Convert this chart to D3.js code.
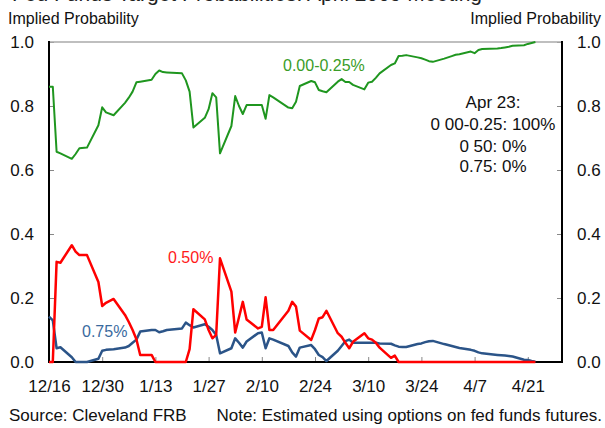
<!DOCTYPE html>
<html>
<head>
<meta charset="utf-8">
<script src="https://cdn.jsdelivr.net/npm/d3@7"></script>
<style>
  body { margin: 0; background: #fff; }
  svg { display: block; font-family: "Liberation Sans", Arial, sans-serif; }
</style>
</head>
<body>
<div id="chart"></div>
<script>
// trading days, 12/16/08 - 4/23/09
const dates = [
  "2008-12-16","2008-12-17","2008-12-18","2008-12-19","2008-12-22","2008-12-23","2008-12-24","2008-12-26","2008-12-29","2008-12-30","2008-12-31",
  "2009-01-02","2009-01-05","2009-01-06","2009-01-07","2009-01-08","2009-01-09","2009-01-12","2009-01-13","2009-01-14","2009-01-15","2009-01-16","2009-01-20","2009-01-21","2009-01-22","2009-01-23","2009-01-26","2009-01-27","2009-01-28","2009-01-29","2009-01-30",
  "2009-02-02","2009-02-03","2009-02-04","2009-02-05","2009-02-06","2009-02-09","2009-02-10","2009-02-11","2009-02-12","2009-02-13","2009-02-17","2009-02-18","2009-02-19","2009-02-20","2009-02-23","2009-02-24","2009-02-25","2009-02-26","2009-02-27",
  "2009-03-02","2009-03-03","2009-03-04","2009-03-05","2009-03-06","2009-03-09","2009-03-10","2009-03-11","2009-03-12","2009-03-13","2009-03-16","2009-03-17","2009-03-18","2009-03-19","2009-03-20","2009-03-23","2009-03-24","2009-03-25","2009-03-26","2009-03-27","2009-03-30","2009-03-31",
  "2009-04-01","2009-04-02","2009-04-03","2009-04-06","2009-04-07","2009-04-08","2009-04-09","2009-04-13","2009-04-14","2009-04-15","2009-04-16","2009-04-17","2009-04-20","2009-04-21","2009-04-22","2009-04-23"
];

// 0.00-0.25%
const probLow = [
  .86,.86,.657,.652,.635,.65,.668,.67,.74,.796,.78,
  .771,.81,.826,.845,.874,.876,.882,.9,.911,.906,.905,.902,.88,.845,.733,.763,.79,.84,.827,.652,
  .7375,.831,.8,.775,.803,.803,.803,.76,.834,.827,.795,.793,.813,.8625,.878,.874,.85,.846,.843,
  .876,.884,.875,.875,.866,.852,.873,.876,.888,.902,.928,.933,.956,.957,.959,.952,.949,.945,.94,.938,.948,.952,
  .956,.96,.962,.97,.965,.975,.978,.98,.981,.983,.985,.988,.99,.994,.997,1.0
];

// 0.50%
const prob050 = [
  0,0,.313,.31,.365,.345,.334,.334,.25,.175,.185,
  .197,.147,.125,.1,.071,.022,.022,0,0,0,0,0,0,.04,.165,.133,.1,.074,.085,.324,
  .22,.092,.14,.188,.133,.105,.11,.202,.1,.1,.16,.188,.173,.098,.069,.1,.136,.14,.16,
  .09,.079,.06,.043,.063,.09,.074,.07,.06,.045,.013,.02,0,0,0,0,0,0,0,0,0,0,
  0,0,0,0,0,0,0,0,0,0,0,0,0,0,0,0
];

// 0.75%
const prob075 = [
  .142,.13,.043,.046,.015,0,0,0,.01,.035,.038,
  .04,.045,.05,.06,.07,.095,.1,.1,.093,.096,.1,.105,.123,.115,.108,.118,.11,.1,.084,.027,
  .043,.074,.06,.045,.064,.09,.092,.043,.074,.07,.05,.03,.017,.045,.053,.04,.022,.015,.003,
  .035,.05,.065,.07,.06,.06,.06,.06,.06,.058,.057,.052,.048,.047,.047,.056,.058,.062,.065,.066,.056,.053,
  .05,.047,.044,.038,.035,.03,.027,.022,.021,.02,.019,.017,.007,.006,.003,.001
];

const xTickDates = ["2008-12-16","2008-12-30","2009-01-13","2009-01-27","2009-02-10","2009-02-24","2009-03-10","2009-03-24","2009-04-07","2009-04-21"];
const xTickLabels = ["12/16","12/30","1/13","1/27","2/10","2/24","3/10","3/24","4/7","4/21"];
const yTicks = [0, 0.2, 0.4, 0.6, 0.8, 1.0];
const noteLines = ["Apr 23:", "0 00-0.25: 100%", "0 50: 0%", "0.75: 0%"];

const W = 605, H = 428;
const plotLeft = 49, plotRight = 562, plotTop = 42, plotBottom = 362;
const parse = d3.timeParse("%Y-%m-%d");

const svg = d3.select("#chart").append("svg").attr("width", W).attr("height", H);

var x = d3.scaleTime().domain([parse("2008-12-16"), parse("2009-04-30")]).range([plotLeft, plotRight]);
var y = d3.scaleLinear().domain([0, 1]).range([plotBottom, plotTop]);

// title, cut off at the top of the picture
svg.append("text").attr("x", 12).attr("y", 1)
  .style("font-size", "21px").style("fill", "#222")
  .text("Fed Funds Target Probabilities: April 2009 Meeting");

// axes
var xAxis = d3.axisBottom(x).tickValues(xTickDates.map(parse))
  .tickSize(-5).tickPadding(18)
  .tickFormat((d, i) => xTickLabels[i]);
var gx = svg.append("g").attr("transform", `translate(0,${plotBottom})`).call(xAxis);

var gl = svg.append("g").attr("transform", `translate(${plotLeft},0)`)
  .call(d3.axisLeft(y).tickValues(yTicks).tickSize(-5).tickPadding(15).tickFormat(d3.format(".1f")));
var gr = svg.append("g").attr("transform", `translate(${plotRight},0)`)
  .call(d3.axisRight(y).tickValues(yTicks).tickSize(-5).tickPadding(15).tickFormat(d3.format(".1f")));

[gx, gl, gr].forEach(function(g){
  g.select(".domain").remove();
  g.selectAll(".tick line").style("stroke", "#888").style("stroke-width", "1px");
  g.selectAll(".tick text").style("font-size", "17px").style("fill", "#111")
    .style("font-family", "\"Liberation Sans\", Arial, sans-serif");
});

// frame
svg.append("line").attr("x1", plotLeft).attr("x2", plotRight).attr("y1", plotTop).attr("y2", plotTop)
  .style("stroke", "#aaa").style("stroke-width", "1.5px");
svg.append("line").attr("x1", plotLeft).attr("x2", plotLeft).attr("y1", plotTop - 1).attr("y2", plotBottom + 1)
  .style("stroke", "#000").style("stroke-width", "2px");
svg.append("line").attr("x1", plotRight).attr("x2", plotRight).attr("y1", plotTop - 1).attr("y2", plotBottom + 1)
  .style("stroke", "#000").style("stroke-width", "2px");
svg.append("line").attr("x1", plotLeft).attr("x2", plotRight).attr("y1", plotBottom).attr("y2", plotBottom)
  .style("stroke", "#000").style("stroke-width", "2px");

// series
function drawSeries(values, color, width) {
  var line = d3.line()
    .x((d, i) => x(parse(dates[i])))
    .y(d => y(d));
  svg.append("path").datum(values)
    .attr("d", line)
    .style("fill", "none")
    .style("stroke", color)
    .style("stroke-width", width)
    .style("stroke-linejoin", "round");
}
drawSeries(probLow, "#1f961f", "2px");
drawSeries(prob075, "#2b5488", "2.5px");
drawSeries(prob050, "#ff0000", "2.5px");

// series labels
svg.append("text").attr("x", 283).attr("y", 71).style("font-size", "16px").style("fill", "#3a9c28").text("0.00-0.25%");
svg.append("text").attr("x", 168).attr("y", 263).style("font-size", "16px").style("fill", "#ff1a1a").text("0.50%");
svg.append("text").attr("x", 82).attr("y", 337).style("font-size", "16px").style("fill", "#3a6a9e").text("0.75%");

// Apr 23 note
svg.append("g").selectAll("text").data(noteLines).join("text")
  .attr("x", 493).attr("y", (d, i) => [108, 130, 151.5, 172][i])
  .attr("text-anchor", "middle")
  .style("font-size", "17px").style("fill", "#111")
  .text(d => d);

// axis titles
svg.append("text").attr("x", 8).attr("y", 24).style("font-size", "16px").style("fill", "#111").text("Implied Probability");
svg.append("text").attr("x", 601).attr("y", 24).attr("text-anchor", "end").style("font-size", "16px").style("fill", "#111").text("Implied Probability");

// footer
svg.append("text").attr("x", 9).attr("y", 421).style("font-size", "17px").style("fill", "#111").text("Source: Cleveland FRB");
svg.append("text").attr("x", 602).attr("y", 421).attr("text-anchor", "end").style("font-size", "17px").style("fill", "#111").text("Note: Estimated using options on fed funds futures.");
</script>
</body>
</html>
